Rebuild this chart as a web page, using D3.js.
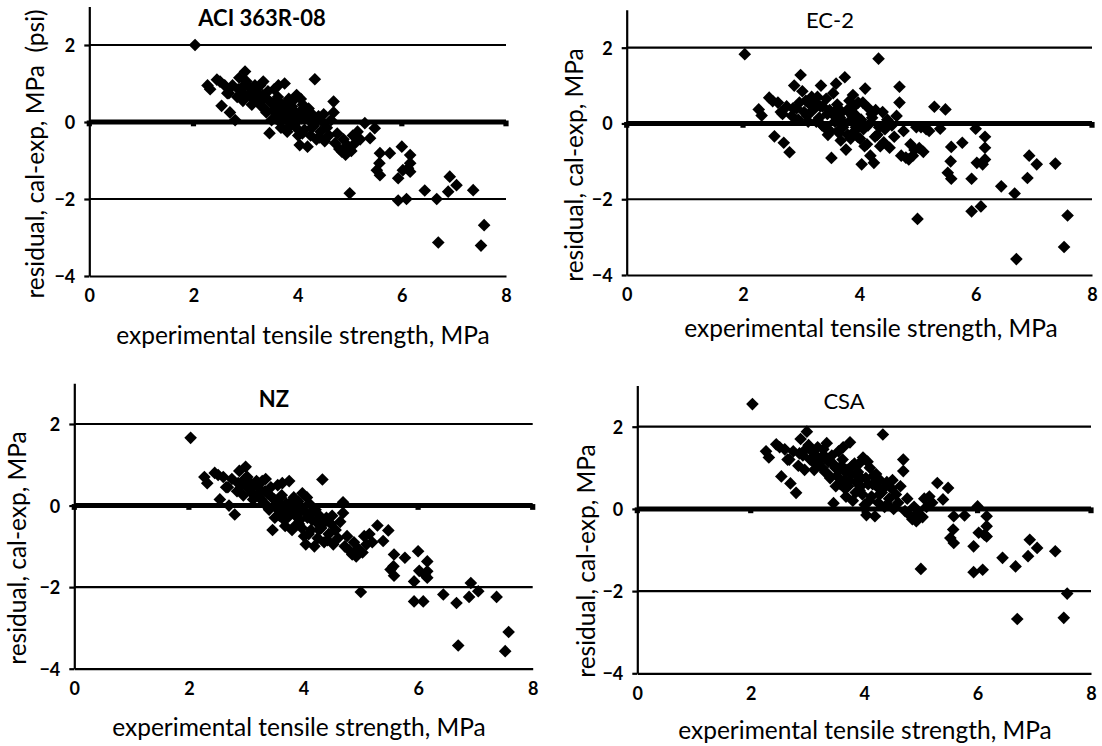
<!DOCTYPE html>
<html>
<head>
<meta charset="utf-8">
<script src="https://cdn.jsdelivr.net/npm/d3@7"></script>
<style>
  html, body { margin: 0; padding: 0; background: #fff; }
  svg { display: block; font-family: Lato, "Open Sans", sans-serif; }
  text { white-space: pre; }
</style>
</head>
<body>
<svg id="chart" width="1102" height="746"></svg>
<script>
// Experimental splitting tensile strength of each specimen (MPa)
const strength = [
  2.03, 4.33, 4.69, 4.69, 5.00,
  2.27, 2.32, 2.45, 2.51, 2.54, 2.60, 2.65, 2.70, 2.75, 2.80,
  2.84, 2.88, 2.92, 2.95, 2.99, 3.02, 3.05, 3.08, 3.12, 3.15,
  3.20, 3.24, 3.28, 3.31, 3.34, 3.37, 3.40, 3.43, 3.46, 3.49,
  3.52, 3.55, 3.58, 3.60, 3.63, 3.65, 3.68, 3.70, 3.72, 3.75,
  3.77, 3.80, 3.83, 3.86, 3.89, 3.92, 3.95, 3.98, 4.01, 4.04,
  4.07, 4.10, 4.13, 4.16, 4.19, 4.22, 4.25, 4.28, 4.31, 4.36,
  4.40, 4.44, 4.48, 4.52, 4.56, 4.60, 4.64, 4.72, 4.76, 4.80,
  4.85, 4.88, 4.92, 4.95, 4.98, 5.03, 5.06, 5.10, 5.15, 5.20,
  2.68, 2.86, 2.97, 3.10, 3.18, 3.26, 3.33, 3.36, 3.45, 3.50,
  3.57, 3.62, 3.66, 3.67, 3.74, 3.79, 3.85, 3.88, 3.91, 3.94,
  3.97, 4.03, 4.06, 4.09, 4.15, 4.21, 4.27, 4.34, 4.42, 4.50,
  5.29, 5.39, 5.48, 5.52, 5.57, 5.58, 5.58, 5.77, 5.93, 5.93,
  6.00, 6.02, 6.09, 6.16, 6.16, 6.16, 6.12, 6.44, 6.67, 6.70,
  6.89, 6.92, 7.05, 7.37, 7.52, 7.58
];

// Residual (calculated - experimental, MPa) for ACI 363R-08
const aciResidual = [
  2.00, 1.11, 0.53, 0.25, -1.85,
  0.95, 0.85, 1.10, 1.05, 0.42, 0.95, 0.75, 0.25, 0.95, 0.05,
  0.65, 1.15, 0.80, 0.55, 1.31, 1.05, 0.70, 0.90, 0.45, 0.85,
  0.60, 0.75, 0.95, 0.40, 1.05, 0.65, 0.25, 0.80, -0.29, 0.50,
  0.30, 0.85, 0.10, 0.55, 0.95, 0.20, -0.15, 0.45, 0.05, 1.00,
  0.30, -0.25, 0.60, 0.15, 0.40, -0.05, 0.25, 0.70, -0.35, -0.60,
  0.10, 0.45, -0.20, 0.30, -0.64, 0.05, -0.35, 0.20, -0.10, -0.45,
  0.15, -0.25, 0.00, -0.50, -0.15, -0.35, 0.05, -0.55, -0.30, -0.70,
  -0.77, -0.45, -0.85, -0.60, -0.68, -0.75, -0.35, -0.55, -0.25, -0.45,
  0.75, 0.85, 0.95, 0.65, 0.95, 0.50, 0.70, 0.35, 0.55, 0.05,
  0.40, 0.65, 0.00, 0.35, 0.15, 0.50, -0.10, 0.25, 0.55, 0.05,
  -0.15, 0.25, 0.60, -0.30, 0.10, 0.35, -0.15, 0.00, -0.40, 0.20,
  -0.03, -0.42, -0.16, -1.25, -1.07, -1.38, -0.81, -0.81, -1.46, -2.04,
  -0.64, -1.25, -2.00, -0.86, -1.07, -1.29, -1.20, -1.78, -2.00, -3.13,
  -1.81, -1.42, -1.64, -1.77, -3.21, -2.68
];

// Residual for Eurocode 2
const ec2Residual = [
  1.83, 1.71, 0.97, 0.55, -2.52,
  0.37, 0.21, 0.68, 0.59, -0.34, 0.55, 0.30, -0.51, 0.45, -0.76,
  0.20, 1.00, 0.40, 0.10, 1.28, 0.85, 0.30, 0.60, 0.05, 0.50,
  0.35, 0.55, 0.70, 0.15, 1.00, 0.45, -0.10, 0.65, -0.30, 0.35,
  -0.91, 0.80, 0.05, 1.05, 0.40, -0.25, -0.45, 0.30, -0.10, 1.22,
  -0.69, -0.30, 0.60, 0.10, 0.75, -0.20, 0.20, 0.55, -0.40, -1.08,
  -0.15, 0.92, -0.55, 0.40, -0.85, 0.15, -1.04, 0.35, -0.30, -0.60,
  0.30, -0.15, 0.10, -0.64, -0.05, -0.35, 0.20, -0.85, -0.20, -0.90,
  -0.95, -0.55, -0.85, -0.70, -0.10, -0.65, -0.10, -0.75, -0.15, -0.20,
  0.25, 0.40, 0.55, 0.20, 0.70, 0.05, 0.45, -0.05, 0.25, -0.20,
  0.20, 0.50, -0.15, 0.15, 0.00, 0.35, -0.40, 0.20, 0.45, -0.10,
  -0.35, 0.10, 0.55, -0.60, -0.05, 0.25, -0.35, -0.10, -0.50, 0.05,
  0.44, -0.14, 0.37, -1.30, -1.00, -1.46, -0.62, -0.51, -1.46, -2.32,
  -0.14, -1.04, -2.19, -0.35, -0.64, -0.95, -1.08, -1.66, -1.85, -3.58,
  -1.44, -0.85, -1.08, -1.06, -3.26, -2.43
];

// Residual for NZS 3101
const nzResidual = [
  1.66, 0.64, 0.08, -0.18, -2.12,
  0.70, 0.55, 0.80, 0.75, 0.15, 0.70, 0.45, 0.00, 0.65, -0.22,
  0.35, 0.85, 0.50, 0.25, 0.95, 0.70, 0.40, 0.55, 0.15, 0.50,
  0.25, 0.40, 0.60, 0.05, 0.65, 0.30, -0.10, 0.45, -0.60, 0.15,
  -0.05, 0.50, -0.25, 0.20, 0.55, -0.15, -0.50, 0.05, -0.30, 0.60,
  -0.05, -0.60, 0.20, -0.25, 0.00, -0.45, -0.15, 0.30, -0.75, -0.95,
  -0.30, 0.05, -0.60, -0.15, -1.00, -0.40, -0.80, -0.25, -0.55, -0.90,
  -0.30, -0.70, -0.45, -0.95, -0.60, -0.80, -0.40, -1.00, -0.75, -1.10,
  -1.20, -0.90, -1.25, -1.05, -1.10, -1.15, -0.75, -0.95, -0.70, -0.90,
  0.45, 0.55, 0.65, 0.30, 0.60, 0.15, 0.35, 0.00, 0.20, -0.30,
  0.05, 0.25, -0.35, -0.05, -0.20, 0.10, -0.50, -0.15, 0.10, -0.35,
  -0.55, -0.15, 0.20, -0.70, -0.35, -0.10, -0.60, -0.45, -0.85, -0.25,
  -0.49, -0.87, -0.61, -1.57, -1.49, -1.72, -1.20, -1.28, -1.86, -2.35,
  -1.12, -1.60, -2.35, -1.37, -1.61, -1.77, -1.70, -2.18, -2.39, -3.43,
  -2.24, -1.90, -2.10, -2.24, -3.57, -3.10
];

// Residual for CSA A23.3
const csaResidual = [
  2.55, 1.81, 1.20, 0.92, -1.46,
  1.40, 1.25, 1.57, 1.50, 0.79, 1.45, 1.20, 0.62, 1.40, 0.39,
  1.05, 1.70, 1.30, 0.95, 1.88, 1.55, 1.20, 1.40, 0.95, 1.30,
  1.10, 1.25, 1.45, 0.90, 1.60, 1.15, 0.75, 1.30, 0.14, 1.00,
  0.80, 1.40, 0.60, 1.05, 1.50, 0.70, 0.30, 0.95, 0.55, 1.62,
  0.85, 0.20, 1.10, 0.65, 0.90, 0.45, 0.75, 1.25, 0.10, -0.15,
  0.60, 1.00, 0.30, 0.80, -0.18, 0.55, 0.15, 0.70, 0.40, 0.05,
  0.65, 0.25, 0.50, 0.00, 0.35, 0.15, 0.55, -0.05, 0.25, -0.15,
  -0.25, 0.05, -0.30, -0.10, -0.15, -0.20, 0.25, 0.05, 0.30, 0.15,
  1.20, 1.35, 1.45, 1.15, 1.50, 1.00, 1.25, 0.85, 1.10, 0.55,
  0.95, 1.20, 0.50, 0.90, 0.70, 1.05, 0.40, 0.80, 1.10, 0.55,
  0.35, 0.75, 1.15, 0.20, 0.60, 0.85, 0.35, 0.50, 0.10, 0.70,
  0.63, 0.23, 0.51, -0.71, -0.50, -0.83, -0.18, -0.16, -0.91, -1.54,
  0.06, -0.58, -1.48, -0.18, -0.42, -0.67, -0.63, -1.19, -1.40, -2.68,
  -1.15, -0.75, -0.95, -1.03, -2.65, -2.06
];

// Zero-residual reference series (drawn as a heavy line with markers)
const referenceX = [0, 2, 4, 6, 8];
const referenceY = [0, 0, 0, 0, 0];

const xTicks = [0, 2, 4, 6, 8];
const yTicks = [-4, -2, 0, 2];
const gridLevels = [-2, 0, 2];
const xDomain = [0, 8];
const yDomain = [-4, 3];

const panelTitles = ["ACI 363R-08", "EC-2", "NZ", "CSA"];
const yTitles = [
  "residual, cal-exp, MPa  (psi)",
  "residual, cal-exp, MPa",
  "residual, cal-exp, MPa",
  "residual, cal-exp, MPa"
];
const xTitle = "experimental tensile strength, MPa";
const residualSets = [aciResidual, ec2Residual, nzResidual, csaResidual];

// Plot-area geometry of each panel
const layout = [
  { left: 89.3,  right: 506,   top: 6.5,   bottom: 276,   title: [262, 18],  titleWeight: 700, yTitle: [35, 154],  xTitle: [303, 335] },
  { left: 626.7, right: 1092,  top: 9.8,   bottom: 275,   title: [830, 20],  titleWeight: 400, yTitle: [574, 165], xTitle: [871, 328] },
  { left: 74.3,  right: 532.7, top: 383.2, bottom: 668.7, title: [274, 399], titleWeight: 700, yTitle: [17, 548],  xTitle: [299, 727] },
  { left: 637.3, right: 1091,  top: 385.6, bottom: 673.3, title: [844, 401], titleWeight: 400, yTitle: [586, 561], xTitle: [865, 730] }
];

const svg = d3.select("#chart");
const diamond = d3.symbol().type(d3.symbolSquare).size(80);

layout.forEach((L, i) => {
  const x = d3.scaleLinear().domain(xDomain).range([L.left, L.right]);
  const y = d3.scaleLinear().domain(yDomain).range([L.bottom, L.top]);
  const g = svg.append("g").attr("class", "panel");

  // horizontal gridlines
  g.append("g").selectAll("line").data(gridLevels).join("line")
    .attr("x1", x(xDomain[0])).attr("x2", x(xDomain[1]))
    .attr("y1", d => y(d)).attr("y2", d => y(d))
    .attr("stroke", "#000").attr("stroke-width", 2.2);

  // heavy zero-residual reference line with its small square markers
  const ref = referenceX.map((v, k) => [v, referenceY[k]]);
  g.append("path")
    .attr("d", d3.line().x(d => x(d[0])).y(d => y(d[1]))(ref))
    .attr("fill", "none").attr("stroke", "#000").attr("stroke-width", 5);
  g.append("g").selectAll("rect").data(ref).join("rect")
    .attr("x", d => x(d[0]) - 2.6).attr("y", d => y(d[1]) - 1.5)
    .attr("width", 5.2).attr("height", 5.8).attr("fill", "#000");

  // y axis
  const yAxis = g.append("g")
    .attr("transform", `translate(${L.left},0)`)
    .call(d3.axisLeft(y).tickValues(yTicks).tickSize(5).tickSizeOuter(0).tickPadding(9).tickFormat(d3.format("d")));
  yAxis.select(".domain").attr("stroke", "#000").attr("stroke-width", 2.2);
  yAxis.selectAll(".tick line").attr("stroke", "#000").attr("stroke-width", 2.2);
  yAxis.selectAll(".tick text")
    .attr("fill", "#000").attr("font-size", 18).attr("font-weight", 700)
    .attr("font-family", "Lato, sans-serif").attr("dy", "0.36em");

  // x axis
  const xAxis = g.append("g")
    .attr("transform", `translate(0,${L.bottom})`)
    .call(d3.axisBottom(x).tickValues(xTicks).tickSize(0).tickSizeOuter(0).tickPadding(0).tickFormat(d3.format("d")));
  xAxis.select(".domain").attr("stroke", "#000").attr("stroke-width", 2.2);
  xAxis.selectAll(".tick text")
    .attr("fill", "#000").attr("font-size", 18).attr("font-weight", 700)
    .attr("font-family", "Lato, sans-serif").attr("y", 20).attr("dy", "0.36em");

  // residual markers
  const pts = strength.map((s, k) => [s, residualSets[i][k]]);
  g.append("g").selectAll("path").data(pts).join("path")
    .attr("d", diamond)
    .attr("transform", d => `translate(${x(d[0])},${y(d[1])}) rotate(45)`)
    .attr("fill", "#000");

  // panel title
  g.append("text")
    .attr("x", L.title[0]).attr("y", L.title[1]).attr("dy", "0.35em")
    .attr("text-anchor", "middle").attr("font-size", 22).attr("font-weight", L.titleWeight)
    .attr("fill", "#000").text(panelTitles[i]);

  // axis titles
  g.append("text")
    .attr("transform", `translate(${L.yTitle[0]},${L.yTitle[1]}) rotate(-90)`)
    .attr("dy", "0.35em").attr("text-anchor", "middle")
    .attr("font-size", 24.5).attr("fill", "#000").text(yTitles[i]);
  g.append("text")
    .attr("x", L.xTitle[0]).attr("y", L.xTitle[1]).attr("dy", "0.35em")
    .attr("text-anchor", "middle").attr("font-size", 24.5).attr("fill", "#000")
    .text(xTitle);
});
</script>
</body>
</html>
